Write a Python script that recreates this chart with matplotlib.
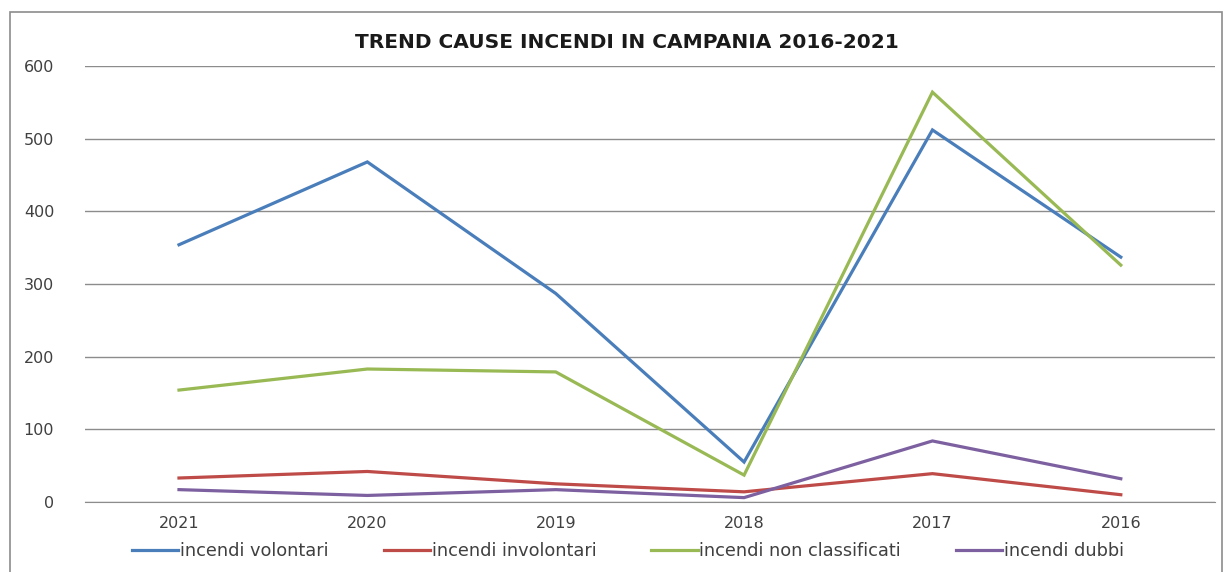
import matplotlib
matplotlib.use('Agg')
import matplotlib.pyplot as plt
from matplotlib.patches import Rectangle

plt.rcParams['font.family'] = ['DejaVu Sans']

# Annual wildfire counts by cause, Campania (newest year first)
anni = ['2021', '2020', '2019', '2018', '2017', '2016']
volontari = [354, 468, 287, 55, 512, 337]
involontari = [33, 42, 25, 14, 39, 10]
non_classificati = [154, 183, 179, 37, 564, 326]
dubbi = [17, 9, 17, 6, 84, 32]

serie = [
    ('incendi volontari', volontari, '#4A7EBB'),
    ('incendi involontari', involontari, '#BE4B48'),
    ('incendi non classificati', non_classificati, '#98B954'),
    ('incendi dubbi', dubbi, '#7D60A0'),
]

fig = plt.figure(figsize=(12.29, 5.72), dpi=100)
ax = fig.add_axes([0.069, 0.1224, 0.9196, 0.7622])

x = range(len(anni))
for nome, valori, colore in serie:
    ax.plot(x, valori, color=colore, lw=2.3, label=nome, solid_joinstyle='miter')

ax.set_xlim(-0.5, len(anni) - 0.5)
ax.set_ylim(0, 600)
ax.set_yticks(range(0, 601, 100))
ax.set_xticks(list(x))
ax.set_xticklabels(anni)
ax.yaxis.grid(True, color='#8c8c8c', lw=1.0)
ax.set_axisbelow(True)
for s in ['top', 'right', 'left']:
    ax.spines[s].set_visible(False)
ax.spines['bottom'].set_color('#8c8c8c')
ax.tick_params(axis='both', length=0, labelsize=11.5, colors='#404040')
ax.tick_params(axis='y', pad=22)
ax.tick_params(axis='x', pad=10)

fig.text(0.51, 0.926, 'TREND CAUSE INCENDI IN CAMPANIA 2016-2021',
         ha='center', va='center', fontsize=14.5, fontweight='bold',
         color='#1a1a1a')

leg = fig.legend(loc='center', bbox_to_anchor=(0.511, 0.037), ncol=4,
                 frameon=False, fontsize=12.8, handlelength=2.6,
                 handletextpad=0.1, columnspacing=3.1)
for t in leg.get_texts():
    t.set_color('#404040')

# chart border
fig.patches.append(Rectangle((10 / 1229, -0.01), 1212 / 1229, 1 - 12 / 572 + 0.01,
                             transform=fig.transFigure, fill=False,
                             edgecolor='#8c8c8c', lw=1.2))

fig.savefig('out.png', dpi=100)
